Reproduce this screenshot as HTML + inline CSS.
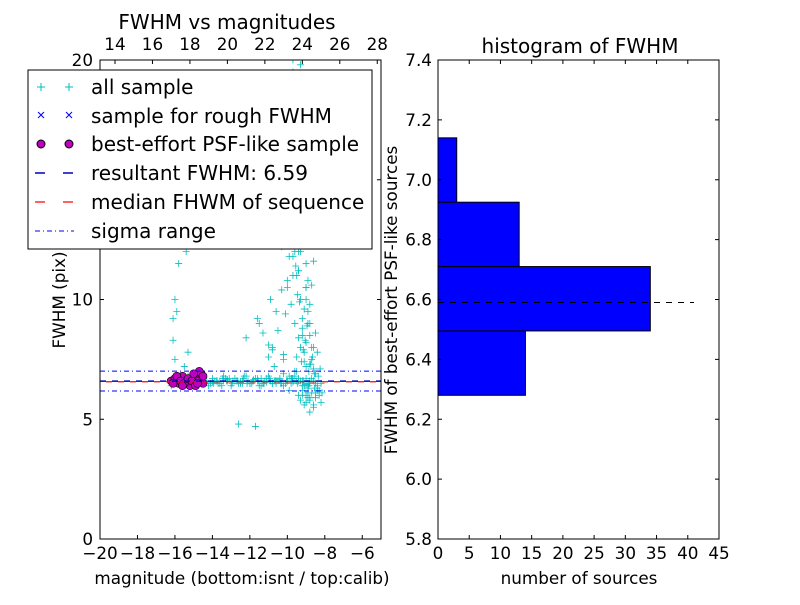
<!DOCTYPE html>
<html><head><meta charset="utf-8"><style>
body{margin:0;background:#fff;}
svg text{font-family:"DejaVu Sans","Liberation Sans",sans-serif;}
</style></head><body>
<svg id="c" width="800" height="600" xmlns="http://www.w3.org/2000/svg">
<rect width="800" height="600" fill="#fff"/>
<g id="L"></g><g id="R"></g>
</svg>
<script>
// ---- left scatter data ----
const allMag=[-16.2,-16.1,-15.9,-16.0,-16.2,-15.8,-15.7,-15.6,-15.5,-15.3,-15.2,-15.0,-14.8,-14.6,-14.4,-14.2,-14.0,-13.8,-13.6,-13.4,-13.2,-13.0,-12.8,-12.6,-12.4,-12.2,-12.0,-11.8,-11.6,-11.4,-11.2,-11.0,-10.8,-10.6,-10.4,-10.2,-10.0,-9.8,-9.6,-9.4,-9.2,-9.0,-8.8,-8.6,-8.4,-8.2,-13.5,-13.1,-12.7,-12.3,-11.9,-11.5,-11.1,-10.7,-10.3,-9.9,-9.5,-9.1,-8.7,-8.5,
-16.0,-16.1,-15.9,-16.0,-15.8,-15.4,-15.5,-15.3,-16.1,-16.0,-12.2,-11.5,-10.8,-10.2,-10.6,-10.0,-9.7,-9.4,-9.9,-9.2,-9.6,-9.3,-9.0,-8.9,-8.8,-9.1,-8.7,-9.5,-9.8,-10.4,-10.9,-11.3,-11.0,-10.1,-9.6,-9.3,-9.7,-9.4,-9.2,-9.0,-8.8,-8.6,-9.5,-9.9,-10.3,-9.6,-9.8,-9.4,-9.5,-9.3,-9.7,-9.2,-9.0,-9.6,-9.4,-10.0,-9.8,-10.7,-11.6,-9.1,
-9.0,-8.8,-8.6,-8.5,-8.4,-8.7,-8.9,-8.3,-8.6,-8.8,-8.2,-8.5,-12.6,-11.7,-9.9,-9.5,-10.2,-9.0,
-13.9,-13.7,-13.3,-12.9,-12.5,-12.1,-11.7,-11.3,-10.9,-10.5,-10.1,-9.7,-9.3,-8.9,-14.1,-13.4,-12.8,-12.0,-11.4,-10.6,-10.0,-9.4,-8.8,-8.4,-13.6,-12.4,-11.6,-10.8,-9.8,-9.2,
-9.3,-9.2,-9.1,-9.0,-9.4,-9.3,-9.2,-9.1,-9.0,-8.9,-9.3,-9.2,-9.0,-8.9,-8.8,-9.1,-9.0,-8.9,-8.8,-8.7,-9.6,-9.5,-9.4,-9.2,-9.0,-8.9,-8.8,-8.7,-8.6,-8.5,-9.7,-9.5,-9.3,-9.1,-9.0,-8.8,-8.7,-8.6,-8.5,-8.4,-9.4,-9.3,-9.2,-9.1,-8.9,-10.2,-10.5,-10.1,-9.9,-10.4,-10.8,-11.0,-10.3,-9.8,-9.6,
-14.3,-13.95,-13.75,-13.45,-13.25,-12.95,-12.65,-12.35,-12.15,-11.85,-11.55,-11.25,-10.95,-10.65,-10.35,-10.05,-9.75,-9.45,-9.15,-8.85,-8.55,-14.0,-13.2,-12.5,-11.8,-11.1,-10.4,-9.7,-9.0,-8.3,
-9.25,-9.15,-9.05,-8.95,-9.35,-9.45,-8.85,-8.75,-8.65,-9.55,-9.25,-9.05,-8.95,-8.7,-8.6,-8.45,-8.35,-8.55,-8.25,-8.15,-8.8,-9.0,-8.9,-9.2,-9.1];
const allFwhm=[6.5,6.7,6.6,6.8,6.4,6.6,6.7,6.5,6.6,6.8,6.5,6.6,6.7,6.5,6.6,6.4,6.7,6.6,6.5,6.8,6.6,6.4,6.7,6.5,6.6,6.8,6.5,6.6,6.7,6.4,6.6,6.8,6.5,6.6,6.7,6.4,6.6,6.5,6.8,6.6,6.4,6.7,6.5,6.6,6.3,6.5,6.4,6.7,6.6,6.8,6.5,6.4,6.7,6.6,6.5,6.8,6.6,6.4,6.7,6.5,
7.5,8.3,9.5,10.0,11.5,12.0,7.2,7.8,9.2,12.8,8.4,9.0,8.0,7.5,9.5,10.5,11.0,12.0,13.5,8.5,9.0,10.0,11.5,9.5,8.5,7.8,7.5,15.0,16.5,12.8,10.0,8.6,7.6,14.0,17.5,18.5,19.5,13.0,12.5,10.5,9.0,8.0,11.0,16.0,12.2,14.5,15.5,16.8,18.0,19.8,20.0,13.8,14.8,12.0,11.2,10.8,9.8,7.2,9.2,19.2,
6.0,5.8,5.6,5.9,6.2,6.1,6.3,6.0,5.5,5.3,5.7,6.1,4.8,4.7,6.2,7.0,6.9,7.2,
6.6,6.5,6.7,6.6,6.5,6.6,6.7,6.5,6.6,6.6,6.5,6.7,6.6,6.5,6.5,6.6,6.6,6.5,6.7,6.5,6.6,6.7,6.6,6.4,6.6,6.5,6.6,6.5,6.7,6.6,
8.0,8.8,9.6,10.5,11.2,12.0,12.6,13.4,14.2,15.0,16.0,17.0,17.8,18.6,19.4,7.4,8.2,9.0,9.8,10.6,7.0,7.6,8.4,9.2,10.0,10.8,7.3,8.0,7.1,6.9,11.8,12.4,13.1,14.4,15.2,16.2,13.6,11.6,8.6,7.8,6.0,5.8,6.2,5.6,6.1,7.7,8.7,9.4,11.8,12.5,7.9,8.1,10.4,13.9,15.6,
6.6,6.5,6.6,6.7,6.6,6.5,6.6,6.7,6.5,6.6,6.6,6.5,6.7,6.6,6.5,6.6,6.7,6.5,6.6,6.4,6.3,6.55,6.65,6.55,6.65,6.55,6.65,6.55,6.45,6.2,
7.4,7.9,8.3,8.9,9.9,10.2,7.0,7.3,7.6,11.4,12.9,14.0,14.9,15.8,17.3,18.2,6.8,6.9,7.1,6.1,5.9,5.7,5.9,6.0,6.4];
const roughMag=[];const roughFwhm=[];
const bestMag=[-16.2,-16.0,-15.8,-15.6,-15.4,-15.2,-15.0,-14.8,-14.6,-14.5,-16.1,-15.9,-15.7,-15.5,-15.3,-15.1,-14.9,-14.7,-14.5,-15.6,-15.0,-14.8];
const bestFwhm=[6.6,6.7,6.5,6.8,6.6,6.4,6.7,6.6,6.9,6.5,6.5,6.8,6.6,6.5,6.7,6.6,6.4,7.0,6.8,6.4,6.9,6.5];
const resultFwhm=6.59, medianFwhm=6.59, sigLo=6.18, sigHi=7.01;
const xTicksBottom=[-20,-18,-16,-14,-12,-10,-8,-6];
const xTicksTop=[14,16,18,20,22,24,26,28];
const yTicksL=[0,5,10,15,20];
// ---- histogram data ----
const binEdges=[6.28,6.495,6.71,6.925,7.14];
const binCounts=[14,34,13,3];
const xTicksR=[0,5,10,15,20,25,30,35,40,45];
const yTicksR=[5.8,6.0,6.2,6.4,6.6,6.8,7.0,7.2,7.4];

const NS="http://www.w3.org/2000/svg";
function mk(p,t,a,txt){const e=document.createElementNS(NS,t);for(const k in a)e.setAttribute(k,a[k]);if(txt!==undefined)e.textContent=txt;p.appendChild(e);return e;}
const L=document.getElementById('L'),R=document.getElementById('R');
const lx0=100,lx1=381,ly0=539,ly1=60;
const xL=v=>lx0+(v+20)/15*(lx1-lx0), yL=v=>ly0-v/20*(ly0-ly1);
const xTop=v=>xL(v-33.2);
const clip=mk(L,'clipPath',{id:'lc'});mk(clip,'rect',{x:lx0,y:ly1,width:lx1-lx0,height:ly0-ly1});
const pts=mk(L,'g',{'clip-path':'url(#lc)'});
for(let i=0;i<allMag.length;i++){const x=xL(allMag[i]),y=yL(allFwhm[i]);
 const e=mk(pts,'path',{d:`M${x-3.5},${y}h7M${x},${y-3.5}v7`,stroke:'#00bfbf','stroke-width':0.8});
 }
for(let i=0;i<bestMag.length;i++){const e=mk(pts,'circle',{cx:xL(bestMag[i]),cy:yL(bestFwhm[i]),r:4,fill:'#bf00bf',stroke:'#000','stroke-width':0.6});
 }
let e;
e=mk(pts,'line',{x1:lx0,x2:lx1,y1:yL(sigHi),y2:yL(sigHi),stroke:'#0000ff','stroke-dasharray':'5,3,1,3'});
e=mk(pts,'line',{x1:lx0,x2:lx1,y1:yL(sigLo),y2:yL(sigLo),stroke:'#0000ff','stroke-dasharray':'5,3,1,3'});
e=mk(pts,'line',{x1:lx0,x2:lx1,y1:yL(medianFwhm)+0.6,y2:yL(medianFwhm)+0.6,stroke:'#ff0000','stroke-width':1.2,'stroke-dasharray':'6,6','stroke-dashoffset':6});
e=mk(pts,'line',{x1:lx0,x2:lx1,y1:yL(resultFwhm),y2:yL(resultFwhm),stroke:'#0000bf','stroke-width':1.5,'stroke-dasharray':'6,6'});
mk(L,'rect',{x:lx0,y:ly1,width:lx1-lx0,height:ly0-ly1,fill:'none',stroke:'#000'});
xTicksBottom.forEach(v=>{const x=xL(v);mk(L,'path',{d:`M${x},${ly0}v-4`,stroke:'#000'});
 const t=mk(L,'text',{x:x,y:559,'text-anchor':'middle','font-size':16.8},(v<0?'\u2212'+(-v):v));});
xTicksTop.forEach(v=>{const x=xTop(v);mk(L,'path',{d:`M${x},${ly1}v4`,stroke:'#000'});
 const t=mk(L,'text',{x:x,y:50,'text-anchor':'middle','font-size':16.8},v);});
yTicksL.forEach(v=>{const y=yL(v);mk(L,'path',{d:`M${lx0},${y}h4M${lx1},${y}h-4`,stroke:'#000'});
 const t=mk(L,'text',{x:93,y:y+6,'text-anchor':'end','font-size':16.8},v);});
const rx0=438,rx1=719;
const xR=v=>rx0+v/45*(rx1-rx0), yR=v=>ly0-(v-5.8)/1.6*(ly0-ly1);
for(let i=0;i<binCounts.length;i++){const y1=yR(binEdges[i+1]),y0=yR(binEdges[i]);
 const b=mk(R,'rect',{x:xR(0),y:y1,width:xR(binCounts[i])-xR(0),height:y0-y1,fill:'#0000ff',stroke:'#000'});
 }
e=mk(R,'line',{x1:xR(0),x2:xR(41),y1:yR(resultFwhm),y2:yR(resultFwhm),stroke:'#000','stroke-dasharray':'6,6'});
mk(R,'rect',{x:rx0,y:ly1,width:rx1-rx0,height:ly0-ly1,fill:'none',stroke:'#000'});
xTicksR.forEach(v=>{const x=xR(v);mk(R,'path',{d:`M${x},${ly0}v-4M${x},${ly1}v4`,stroke:'#000'});
 const t=mk(R,'text',{x:x,y:559,'text-anchor':'middle','font-size':16.8},v);});
yTicksR.forEach(v=>{const y=yR(v);mk(R,'path',{d:`M${rx0},${y}h4M${rx1},${y}h-4`,stroke:'#000'});
 const t=mk(R,'text',{x:432,y:y+6,'text-anchor':'end','font-size':16.8},v.toFixed(1));});
</script>
<svg width="800" height="600" style="position:absolute;left:0;top:0" xmlns="http://www.w3.org/2000/svg">
<text x="227" y="29" text-anchor="middle" font-size="20">FWHM vs magnitudes</text>
<text x="580" y="53" text-anchor="middle" font-size="20">histogram of FWHM</text>
<text x="242" y="584" text-anchor="middle" font-size="16.8">magnitude (bottom:isnt / top:calib)</text>
<text x="579" y="584" text-anchor="middle" font-size="16.8">number of sources</text>
<text transform="translate(65,300) rotate(-90)" text-anchor="middle" font-size="16.8">FWHM (pix)</text>
<text transform="translate(397,300) rotate(-90)" text-anchor="middle" font-size="16.8">FWHM of best-effort PSF-like sources</text>
<g>
<rect x="28" y="70" width="344" height="179" fill="#fff" stroke="#000"/>
<path d="M37,87h8M41,83v8M65,87h8M69,83v8" stroke="#00bfbf"/>
<text x="91" y="94" font-size="20">all sample</text>
<path d="M38,112l6,6M44,112l-6,6M66,112l6,6M72,112l-6,6" stroke="#0000ff"/>
<text x="91" y="123" font-size="20">sample for rough FWHM</text>
<circle cx="41" cy="144" r="4" fill="#bf00bf" stroke="#000"/><circle cx="69" cy="144" r="4" fill="#bf00bf" stroke="#000"/>
<text x="91" y="151" font-size="20">best-effort PSF-like sample</text>
<path d="M35,173h10M63,173h10" stroke="#0000bf" stroke-width="1.5"/>
<text x="91" y="180" font-size="20">resultant FWHM: 6.59</text>
<path d="M35,202h10M63,202h10" stroke="#ff0000" stroke-width="1.2"/>
<text x="91" y="209" font-size="20">median FHWM of sequence</text>
<path d="M35,231h5M43,231h1M47,231h5M55,231h1M59,231h5M67,231h1M71,231h3" stroke="#0000ff"/>
<text x="91" y="238" font-size="20">sigma range</text>
</g>
</svg>
</body></html>
